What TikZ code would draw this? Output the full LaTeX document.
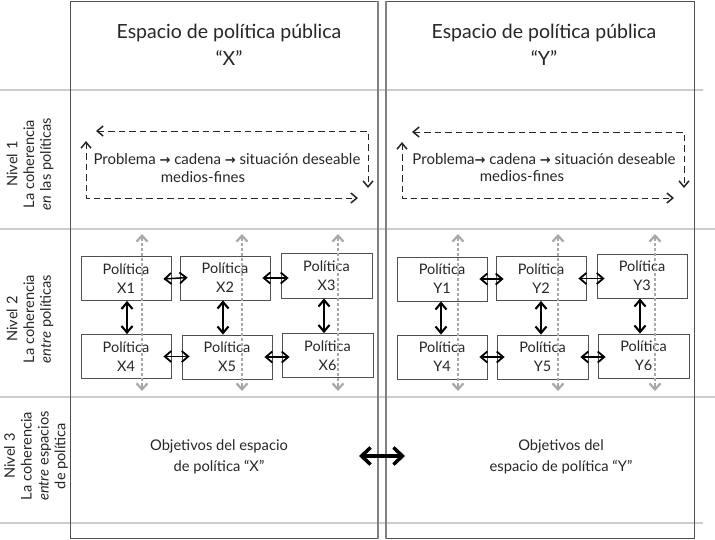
\documentclass[tikz,border=0pt]{standalone}
\usepackage{fontspec}
\setmainfont{Lato}
\newfontfamily\arrowfont{DejaVu Sans}
\usetikzlibrary{arrows.meta}
\definecolor{sepgray}{HTML}{CCCCCC}
\definecolor{boxline}{HTML}{505050}
\definecolor{innerline}{HTML}{808080}
\definecolor{dotgray}{HTML}{A8A8A8}
\newcommand{\ra}{{\arrowfont\bfseries\fontsize{13}{14}\selectfont →}}
\begin{document}
\begin{tikzpicture}[x=1pt,y=-1pt,
  font=\fontsize{15}{17}\selectfont,
  sep/.style={sepgray, line width=2.5pt},
  outerframe/.style={boxline, line width=1pt},
  innerframe/.style={innerline, line width=1.2pt},
  txt/.style={inner sep=0pt, align=center, text=black!85},
  head/.style={txt, font=\fontsize{19.5}{25}\selectfont},
  side/.style={txt, rotate=90, font=\fontsize{14.6}{16.8}\selectfont},
  pbox/.style={draw=boxline, fill=white, line width=0.8pt, minimum width=90pt,
    minimum height=44pt, inner sep=0pt, align=center, text=black!85,
    font=\fontsize{14.5}{19}\selectfont},
  loopline/.style={dash pattern=on 6.5pt off 4pt, line width=0.9pt, black!85,
    arrows={Straight Barb[length=6pt,width=10pt,line width=1.5pt]-Straight Barb[length=6pt,width=10pt,line width=1.5pt]}},
  hlink/.style={line width=1.5pt, black,
    arrows={Straight Barb[length=6.5pt,width=11pt,line width=1.8pt]-Straight Barb[length=6.5pt,width=11pt,line width=1.8pt]},
    shorten <=-8pt, shorten >=-8pt},
  vlink/.style={line width=2.2pt, black,
    arrows={Straight Barb[length=6.5pt,width=11pt,line width=2.1pt]-Straight Barb[length=6.5pt,width=11pt,line width=2.1pt]}},
  gline/.style={dotgray, line width=2pt, dash pattern=on 3pt off 2pt},
  gtip/.style={dotgray, line width=2pt, solid,
    arrows={-Straight Barb[length=6pt,width=11pt,line width=2.2pt]}},
  biglink/.style={line width=4pt, black,
    arrows={Straight Barb[length=9pt,width=17pt,line width=3.5pt]-Straight Barb[length=9pt,width=17pt,line width=3.5pt]}}
]
\useasboundingbox (0,0) rectangle (715,539);

% row separators
\draw[sep] (0,90) -- (703,90);
\draw[sep] (0,229) -- (715,229);
\draw[sep] (0,397) -- (715,397);
\draw[sep] (0,523) -- (703,523);

% column frames
\draw[outerframe] (378,1) -- (70,1) -- (70,538) -- (378,538);
\draw[outerframe] (386,1) -- (694,1) -- (694,538) -- (386,538);
\draw[innerframe] (378,0.5) -- (378,538.5);
\draw[innerframe] (386,0.5) -- (386,538.5);

% headers
\node[head] (hx) at (229,33) {Espacio de política pública};
\node[head] (hxq) at (229,58) {“X”};
\node[head] (hy) at (544,33) {Espacio de política pública};
\node[head] (hyq) at (544,58) {“Y”};

% side labels
\node[side] (n1) at (30,164) {Nivel 1\\La coherencia\\\textit{en} las políticas};
\node[side] (n2) at (30,319) {Nivel 2\\La coherencia\\\textit{entre} políticas};
\node[side] (n3) at (36,456) {Nivel 3\\La coherencia\\\textit{entre} espacios\\de política};

% level 1 loops
\coordinate (xa) at (96,131);  \coordinate (xb) at (368,131); \coordinate (xc) at (368,188);
\coordinate (xd) at (86,141);  \coordinate (xe) at (86,198);  \coordinate (xf) at (358,198);
\draw[loopline] (xa) -- (xb) -- (xc);
\draw[loopline] (xd) -- (xe) -- (xf);
\node[txt] (px) at (227,159) {Problema \ra{} cadena \ra{} situación deseable};
\node[txt] (mx) at (203,177) {medios-fines};

\coordinate (ya) at (412,132); \coordinate (yb) at (684,132); \coordinate (yc) at (684,188);
\coordinate (yd) at (402,142); \coordinate (ye) at (402,198); \coordinate (yf) at (674,198);
\draw[loopline] (ya) -- (yb) -- (yc);
\draw[loopline] (yd) -- (ye) -- (yf);
\node[txt] (py) at (544,159) {Problema\ra{} cadena \ra{} situación deseable};
\node[txt] (my) at (522,176) {medios-fines};

% level 2 boxes X
\node[pbox] (X1) at (126,278.5) {Política\\X1};
\node[pbox] (X2) at (225,278) {Política\\X2};
\node[pbox, minimum width=91pt, minimum height=45pt] (X3) at (326.5,275.5) {Política\\X3};
\node[pbox] (X4) at (126,356.5) {Política\\X4};
\node[pbox] (X5) at (227,357) {Política\\X5};
\node[pbox, minimum width=91pt] (X6) at (327.5,355.5) {Política\\X6};
% level 2 boxes Y
\node[pbox] (Y1) at (442,279) {Política\\Y1};
\node[pbox] (Y2) at (541,278.5) {Política\\Y2};
\node[pbox] (Y3) at (642,276) {Política\\Y3};
\node[pbox] (Y4) at (442,357) {Política\\Y4};
\node[pbox, minimum width=91pt] (Y5) at (542.5,357) {Política\\Y5};
\node[pbox, minimum width=91pt] (Y6) at (643.5,356) {Política\\Y6};

% horizontal links
\draw[hlink] (X1.east) -- (X2.west);
\draw[hlink] (X2.east) -- (X2.east -| X3.west);
\draw[hlink] (X4.east) -- (X4.east -| X5.west);
\draw[hlink] (X5.east) -- (X5.east -| X6.west);
\draw[hlink] (Y1.east) -- (Y1.east -| Y2.west);
\draw[hlink] (Y2.east) -- (Y2.east -| Y3.west);
\draw[hlink] (Y4.east) -- (Y4.east -| Y5.west);
\draw[hlink] (Y5.east) -- (Y5.east -| Y6.west);

% vertical links
\draw[vlink] ([xshift=1pt]X1.south) -- ([xshift=1pt]X1.south |- X4.north);
\draw[vlink] ([xshift=-2pt]X2.south) -- ([xshift=-2pt]X2.south |- X5.north);
\draw[vlink] ([xshift=-2.5pt]X3.south) -- ([xshift=-2.5pt]X3.south |- X6.north);
\draw[vlink] ([xshift=-1pt]Y1.south) -- ([xshift=-1pt]Y1.south |- Y4.north);
\draw[vlink] ([xshift=0pt]Y2.south) -- ([xshift=0pt]Y2.south |- Y5.north);
\draw[vlink] ([xshift=-2pt]Y3.south) -- ([xshift=-2pt]Y3.south |- Y6.north);

% gray dotted links
\foreach \gx/\gn in {142/gx1, 242/gx2, 338/gx3, 458/gy1, 558/gy2, 655/gy3} {
  \coordinate (\gn t) at (\gx,234);
  \coordinate (\gn b) at (\gx,391);
  \draw[gline] ([yshift=-4pt]\gn t) -- ([yshift=4pt]\gn b);
  \draw[gtip] ([yshift=-6pt]\gn t) -- (\gn t);
  \draw[gtip] ([yshift=6pt]\gn b) -- (\gn b);
}

% level 3
\node[txt, font=\fontsize{14.7}{21}\selectfont] (ox) at (219,456.5) {Objetivos del espacio\\de política “X”};
\node[txt, font=\fontsize{14.7}{21}\selectfont] (oy) at (561,456.5) {Objetivos del\\espacio de política “Y”};
\coordinate (bl) at (359,456);
\coordinate (br) at (405,456);
\draw[biglink] (bl) -- (br);
\end{tikzpicture}
\end{document}
